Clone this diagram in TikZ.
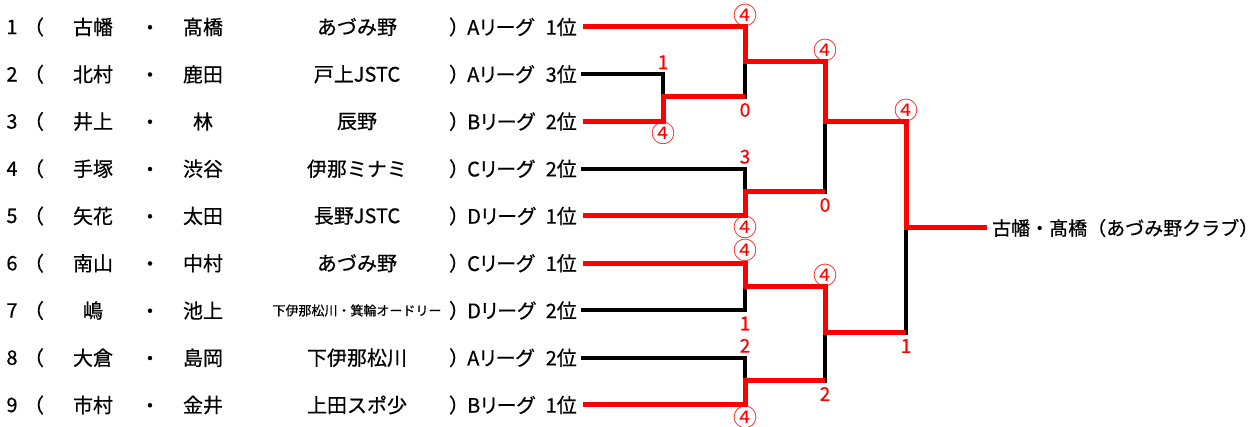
\documentclass[tikz,border=0pt]{standalone}
\usepackage{fontspec}
\setmainfont{Noto Sans CJK JP}[FakeBold=0.5]
\usetikzlibrary{calc}

\begin{document}
\begin{tikzpicture}[x=1pt,y=-1pt,every node/.style={inner sep=0pt,font=\fontsize{20}{24}\selectfont},
        league/.style={anchor=west,font=\fontsize{20}{24}\selectfont\addfontfeature{RawFeature=+palt}},
        rank/.style={anchor=east,inner xsep=6pt},
        score/.style={text=red,font=\fontsize{19}{22}\selectfont},
        ring/.style={text=red,font=\fontsize{24}{26}\selectfont\addfontfeature{FakeBold=0}},
        won/.style={draw=red,line width=5pt,line join=miter},
        lost/.style={draw=black,line width=4pt,line cap=rect}]
        \useasboundingbox (0,0) rectangle (1259,427);
        \foreach \i/\na/\nb/\club/\lg/\rk in {1/古幡/髙橋/あづみ野/A/1,2/北村/鹿田/戸上JSTC/A/3,3/井上/林/辰野/B/2,4/手塚/渋谷/伊那ミナミ/C/2,5/矢花/太田/長野JSTC/D/1,6/南山/中村/あづみ野/C/1,7/嶋/池上/{\fontsize{13}{15}\selectfont 下伊那松川・箕輪オードリー}/D/2,8/大倉/島岡/下伊那松川/A/2,9/市村/金井/上田スポ少/B/1}{
            \pgfmathsetmacro\y{27+(\i-1)*47.25}
            \node (no\i) at (12,\y) {\i};
            \node (pl\i) at (34,\y) {（};
            \node (fa\i) at (93,\y) {\na};
            \node (dt\i) at (150,\y+3) {・};
            \node (fb\i) at (203,\y) {\nb};
            \node (cl\i) at (357,\y) {\club};
            \node (pr\i) at (459,\y) {）};
            \node[league] (lg\i) at (467,\y) {\lg リーグ};
            \node[rank] (rk\i) at (583,\y) {\rk 位};
        }
        \coordinate (m23) at (663,97);
        \coordinate (m1) at (745,62);
        \coordinate (m45) at (745,192);
        \coordinate (m67) at (745,287);
        \coordinate (m89) at (745,381);
        \coordinate (mt) at (825,122);
        \coordinate (mb) at (825,333);
        \coordinate (mf) at (906,228);
        \node[anchor=west,inner xsep=5pt,font=\fontsize{19}{22}\selectfont] (champ) at (987,228) {古幡・髙橋（あづみ野クラブ）};
        \draw[lost] (rk2.east) -| (m23);
        \draw[lost] (m23 -| m1) -- (m1);
        \draw[lost] (rk4.east) -| (m45);
        \draw[lost] (m45 -| mt) -- (mt);
        \draw[lost] (rk7.east) -| (m67);
        \draw[lost] (rk8.east) -| (m89);
        \draw[lost] (m89 -| mb) -- (mb);
        \draw[lost] (mb -| mf) -- (mf);
        \draw[won] (rk1.east) -| (m1) -| (mt) -| (mf) -- (champ);
        \draw[won] (rk3.east) -| (m23) -- (m23 -| m1);
        \draw[won] (rk5.east) -| (m45) -- (m45 -| mt);
        \draw[won] (rk6.east) -| (m67) -| (mb) -- (mb -| mf);
        \draw[won] (rk9.east) -| (m89) -- (m89 -| mb);
        \node[score] (s1) at ($(rk2.east -| m23)+(0,-12)$) {1};
        \node[ring] (s2) at ($(rk3.east -| m23)+(0,12)$) {④};
        \node[ring] (s3) at ($(rk1.east -| m1)+(0,-12)$) {④};
        \node[score] (s4) at ($(m23 -| m1)+(0,13)$) {0};
        \node[score] (s5) at ($(rk4.east -| m45)+(0,-12)$) {3};
        \node[ring] (s6) at ($(rk5.east -| m45)+(0,11)$) {④};
        \node[ring] (s7) at ($(m1 -| mt)+(0,-12)$) {④};
        \node[score] (s8) at ($(m45 -| mt)+(0,13)$) {0};
        \node[ring] (s9) at ($(rk6.east -| m67)+(0,-13)$) {④};
        \node[score] (s10) at ($(rk7.east -| m67)+(0,13)$) {1};
        \node[score] (s11) at ($(rk8.east -| m89)+(0,-12)$) {2};
        \node[ring] (s12) at ($(rk9.east -| m89)+(0,12)$) {④};
        \node[ring] (s13) at ($(m67 -| mb)+(0,-12)$) {④};
        \node[score] (s14) at ($(m89 -| mb)+(0,13)$) {2};
        \node[ring] (s15) at ($(mt -| mf)+(0,-12)$) {④};
        \node[score] (s16) at ($(mb -| mf)+(0,13)$) {1};
    \end{tikzpicture}
\end{document}
